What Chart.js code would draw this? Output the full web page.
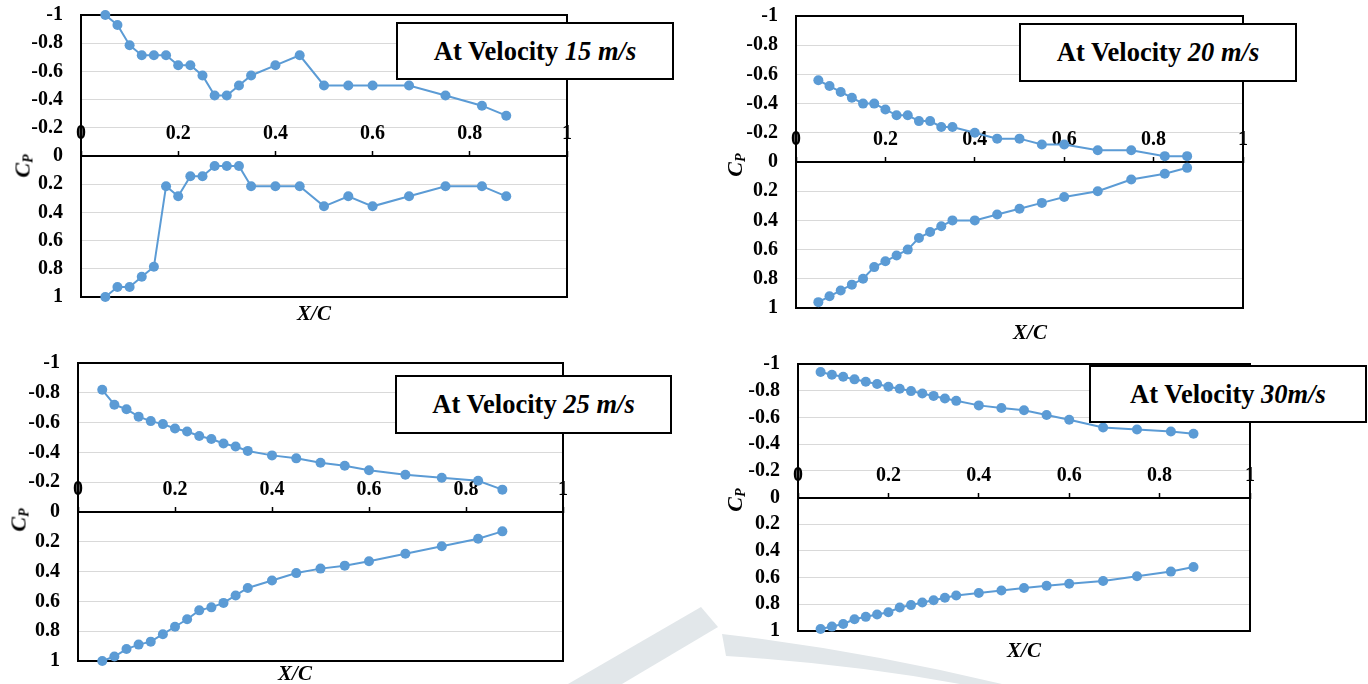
<!DOCTYPE html>
<html>
<head>
<meta charset="utf-8">
<script src="https://cdn.jsdelivr.net/npm/chart.js@4.4.0/dist/chart.umd.min.js"></script>
<style>
  body { margin: 0; background: #fff; overflow: hidden; }
  #page { position: relative; width: 1368px; height: 684px; overflow: hidden; }
  canvas { position: absolute; z-index: 1; }
  .serif { font-family: "Liberation Serif", "Tinos", "DejaVu Serif", "Noto Serif", serif; }
  .box {
    position: absolute; box-sizing: border-box; background: #fff;
    border: 2px solid #000; display: flex; align-items: center; justify-content: center;
    font-weight: bold; font-size: 26.5px; color: #000; white-space: nowrap; z-index: 3;
  }
  .cp {
    position: absolute; font-style: italic; font-weight: bold; font-size: 22px; color: #000;
    transform: translate(-50%, -50%) rotate(-90deg); white-space: nowrap; z-index: 2;
  }
  .cp sub { font-size: 14px; vertical-align: -3px; }
  .xc {
    position: absolute; font-style: italic; font-weight: bold; font-size: 21px; color: #000;
    transform: translate(-50%, -50%); white-space: nowrap; z-index: 2;
  }
  #wm { position: absolute; left: 0; top: 0; z-index: 0; }
</style>
</head>
<body>
<div id="page">
  <svg id="wm" width="1368" height="684">
    <path d="M568 684 L701 607 L718 627 L622 684 Z" fill="#e2e7ea"/>
    <path d="M722 634 Q 860 650 1002 684 L 960 684 Q 850 664 726 656 Z" fill="#e2e7ea"/>
  </svg>

  <canvas id="c15" width="570" height="346" style="left:11px;top:-17px;width:570px;height:346px"></canvas>
  <canvas id="c20" width="531" height="356" style="left:726px;top:-16px;width:531px;height:356px"></canvas>
  <canvas id="c25" width="569" height="362" style="left:8px;top:331px;width:569px;height:362px"></canvas>
  <canvas id="c30" width="536" height="331" style="left:728px;top:332px;width:536px;height:331px"></canvas>

  <div class="box serif" style="left:396px;top:22px;width:278px;height:58px">At Velocity&nbsp;<i>15 m/s</i></div>
  <div class="box serif" style="left:1019px;top:23px;width:278px;height:59px">At Velocity&nbsp;<i>20 m/s</i></div>
  <div class="box serif" style="left:395px;top:375px;width:277px;height:59px">At Velocity&nbsp;<i>25 m/s</i></div>
  <div class="box serif" style="left:1089px;top:365px;width:278px;height:58px">At Velocity&nbsp;<i>30m/s</i></div>

  <div class="cp serif" style="left:23px;top:166px">C<sub>P</sub></div>
  <div class="cp serif" style="left:735px;top:165px">C<sub>P</sub></div>
  <div class="cp serif" style="left:19px;top:520px">C<sub>P</sub></div>
  <div class="cp serif" style="left:735px;top:500px">C<sub>P</sub></div>

  <div class="xc serif" style="left:314px;top:313px">X/C</div>
  <div class="xc serif" style="left:1030px;top:332px">X/C</div>
  <div class="xc serif" style="left:295px;top:673px">X/C</div>
  <div class="xc serif" style="left:1024px;top:650px">X/C</div>
</div>

<script>
// chordwise tap positions
const xc = [0.05, 0.075, 0.1, 0.125, 0.15, 0.175, 0.2, 0.225, 0.25, 0.275, 0.3, 0.325, 0.35, 0.4, 0.45, 0.5, 0.55, 0.6, 0.675, 0.75, 0.825, 0.875];

// 15 m/s
const v15Upper = [-1, -0.929, -0.786, -0.714, -0.714, -0.714, -0.643, -0.643, -0.571, -0.429, -0.429, -0.5, -0.571, -0.643, -0.714, -0.5, -0.5, -0.5, -0.5, -0.429, -0.357, -0.286];
const v15Lower = [1, 0.929, 0.929, 0.857, 0.786, 0.214, 0.286, 0.143, 0.143, 0.071, 0.071, 0.071, 0.214, 0.214, 0.214, 0.357, 0.286, 0.357, 0.286, 0.214, 0.214, 0.286];

// 20 m/s
const v20Upper = [-0.56, -0.52, -0.48, -0.44, -0.4, -0.4, -0.36, -0.32, -0.32, -0.28, -0.28, -0.24, -0.24, -0.2, -0.16, -0.16, -0.12, -0.12, -0.08, -0.08, -0.04, -0.04];
const v20Lower = [0.96, 0.92, 0.88, 0.84, 0.8, 0.72, 0.68, 0.64, 0.6, 0.52, 0.48, 0.44, 0.4, 0.4, 0.36, 0.32, 0.28, 0.24, 0.2, 0.12, 0.08, 0.04];

// 25 m/s
const v25Upper = [-0.82, -0.72, -0.69, -0.64, -0.61, -0.59, -0.56, -0.54, -0.51, -0.49, -0.46, -0.44, -0.41, -0.38, -0.36, -0.33, -0.31, -0.28, -0.25, -0.23, -0.21, -0.15];
const v25Lower = [1, 0.97, 0.92, 0.89, 0.87, 0.82, 0.77, 0.72, 0.66, 0.64, 0.61, 0.56, 0.51, 0.46, 0.41, 0.38, 0.36, 0.33, 0.28, 0.23, 0.18, 0.13];

// 30 m/s
const v30Upper = [-0.94, -0.92, -0.905, -0.885, -0.867, -0.85, -0.83, -0.814, -0.797, -0.779, -0.761, -0.741, -0.724, -0.69, -0.67, -0.653, -0.618, -0.583, -0.525, -0.51, -0.495, -0.477];
const v30Lower = [0.985, 0.967, 0.947, 0.912, 0.894, 0.877, 0.859, 0.824, 0.806, 0.786, 0.769, 0.751, 0.734, 0.716, 0.696, 0.678, 0.661, 0.646, 0.626, 0.59, 0.555, 0.52];

const blue = '#5B9BD5';

Chart.defaults.font.family = '"Liberation Serif", "Tinos", "DejaVu Serif", "Noto Serif", serif';
Chart.defaults.font.size = 20;
Chart.defaults.font.weight = 'bold';
Chart.defaults.color = '#000';

// black frame round the plot area
const frame = {
  id: 'frame',
  beforeDatasetsDraw(chart) {
    const a = chart.chartArea, ctx = chart.ctx;
    ctx.save();
    ctx.strokeStyle = '#000';
    ctx.lineWidth = 2;
    ctx.strokeRect(a.left, a.top, a.right - a.left, a.bottom - a.top);
    ctx.restore();
  }
};

const fmt = v => (Math.abs(v) < 1e-9 ? '0' : String(+(+v).toFixed(1)));

function pts(ys) {
  return xc.map((x, i) => ({ x: x, y: ys[i] }));
}

function series(ys) {
  return {
    data: pts(ys),
    showLine: true,
    clip: false,
    borderColor: blue,
    backgroundColor: blue,
    borderWidth: 2,
    pointRadius: 5,
    pointBorderWidth: 0,
    tension: 0
  };
}

function panel(id, upper, lower) {
  new Chart(document.getElementById(id), {
    type: 'scatter',
    data: { datasets: [series(upper), series(lower)] },
    options: {
      responsive: false,
      animation: false,
      devicePixelRatio: 1,
      layout: { padding: { left: 0, top: 32, right: 14, bottom: 32 } },
      plugins: { legend: { display: false }, tooltip: { enabled: false } },
      scales: {
        x: {
          type: 'linear',
          position: { y: 0 },
          min: 0, max: 1,
          afterFit: s => { s.height = 0; },
          ticks: { stepSize: 0.2, padding: -28, maxRotation: 0, autoSkip: false, callback: fmt },
          grid: { display: true, drawOnChartArea: false, drawTicks: true, tickLength: -6, tickColor: '#000', tickWidth: 1.5 },
          border: { display: true, color: '#000', width: 2 }
        },
        y: {
          type: 'linear',
          position: 'left',
          reverse: true,
          min: -1, max: 1,
          afterFit: s => { s.width = 70; },
          ticks: { stepSize: 0.2, padding: 18, autoSkip: false, callback: fmt },
          grid: { color: '#d9d9d9', lineWidth: 1, drawTicks: false },
          border: { display: true, color: '#000', width: 2 }
        }
      }
    },
    plugins: [frame]
  });
}

panel('c15', v15Upper, v15Lower);
panel('c20', v20Upper, v20Lower);
panel('c25', v25Upper, v25Lower);
panel('c30', v30Upper, v30Lower);
</script>
</body>
</html>
